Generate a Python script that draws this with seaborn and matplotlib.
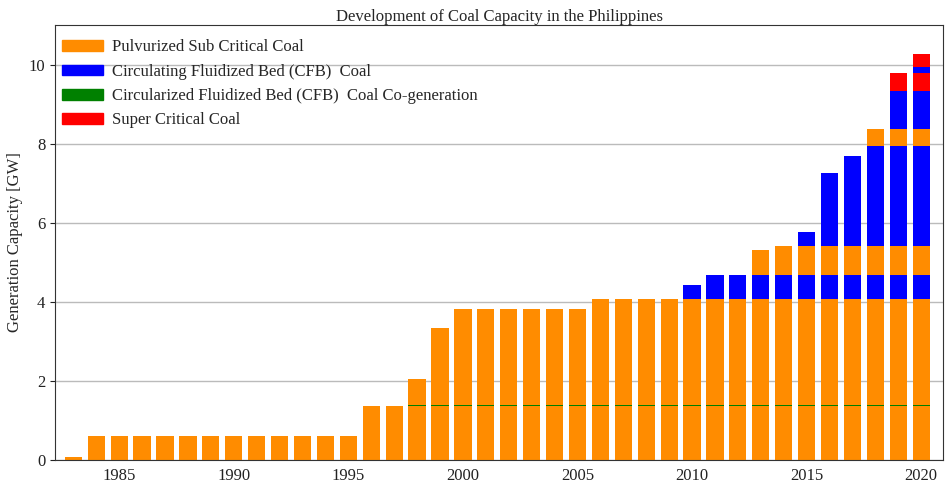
import numpy as np
import pandas as pd
import seaborn as sns
import matplotlib.pyplot as plt
from matplotlib.patches import Patch

years = list(range(1983, 2021))

# capacity additions stacked in the order they were built (GW)
sub_1 = [0.08] + [0.61]*12 + [1.375]*25
cogen_1 = [0]*15 + [0.025]*23
sub_2 = [0]*15 + [0.66, 1.95] + [2.41]*6 + [2.66]*15
cfb_1 = [0]*27 + [0.36] + [0.63]*10
sub_3 = [0]*30 + [0.63] + [0.73]*7
cfb_2 = [0]*32 + [0.34, 1.83, 2.27, 2.51, 2.51, 2.51]
sub_4 = [0]*35 + [0.44, 0.44, 0.44]
cfb_3 = [0]*36 + [0.96, 0.96]
sc_1 = [0]*36 + [0.46, 0.46]
cfb_4 = [0]*37 + [0.15]
sc_2 = [0]*37 + [0.32]

labels = ["Pulvurized Sub Critical Coal",
          "Circulating Fluidized Bed (CFB)  Coal",
          "Circularized Fluidized Bed (CFB)  Coal Co-generation",
          "Super Critical Coal"]
colors = {"sub": "#ff8c00", "cfb": "#0000ff", "cogen": "#008000", "sc": "#ff0000"}

layers = [("sub", sub_1), ("cogen", cogen_1), ("sub", sub_2), ("cfb", cfb_1),
          ("sub", sub_3), ("cfb", cfb_2), ("sub", sub_4), ("cfb", cfb_3),
          ("sc", sc_1), ("cfb", cfb_4), ("sc", sc_2)]

sns.set_style("ticks")
plt.rcParams["font.family"] = ["Liberation Serif", "DejaVu Serif"]

fig = plt.figure(figsize=(9.51, 4.9), dpi=100)
ax = fig.add_axes([55/951, 1-460/490, 888/951, 435/490])

# cumulative heights, drawn from the top layer down so lower layers cover
cum = np.cumsum([vals for _, vals in layers], axis=0)
for i in range(len(layers)-1, -1, -1):
    df = pd.DataFrame({"year": years, "cap": cum[i]})
    sns.barplot(data=df, x="year", y="cap", native_scale=True, color=colors[layers[i][0]],
                width=0.75, errorbar=None, linewidth=0, saturation=1, ax=ax)

ax.set_xlim(1982.2, 2020.95)
ax.set_ylim(0, 11)
ax.set_xticks([1985, 1990, 1995, 2000, 2005, 2010, 2015, 2020])
ax.set_yticks([0, 2, 4, 6, 8, 10])
ax.tick_params(axis="x", length=0, labelsize=12, colors="#222222", pad=6)
ax.tick_params(axis="y", length=3.5, labelsize=12, colors="#222222")
ax.grid(axis="y", color="#bbbbbb", linewidth=1)
ax.set_axisbelow(True)
for s in ax.spines.values():
    s.set_visible(True)
    s.set_color("#333333")
ax.set_xlabel("")
ax.set_ylabel("Generation Capacity [GW]", fontsize=12)
ax.set_title("Development of Coal Capacity in the Philippines", fontsize=12, pad=3)

handles = [Patch(color=colors[k]) for k in ["sub", "cfb", "cogen", "sc"]]
ax.legend(handles, labels, loc="upper left", bbox_to_anchor=(0, 0.982), frameon=False,
          fontsize=12, handlelength=2.5, handleheight=0.6, labelspacing=0.5,
          borderaxespad=0, handletextpad=0.5)

fig.savefig("out.png", dpi=100)
